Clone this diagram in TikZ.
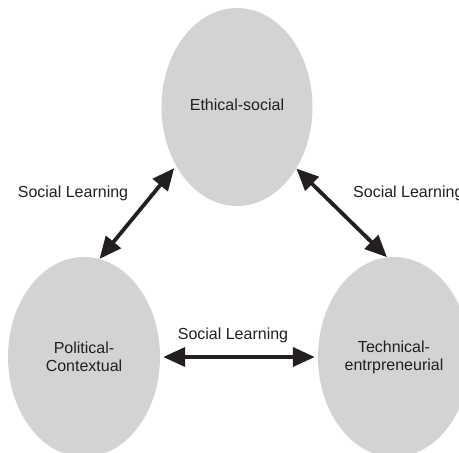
\documentclass[tikz,border=0pt]{standalone}
\usepackage{fontspec}
\setmainfont{Liberation Sans}
\usetikzlibrary{shapes.geometric,arrows.meta}
\definecolor{ovalfill}{RGB}{209,211,212}
\definecolor{ink}{RGB}{35,31,32}
\tikzset{
  oval/.style={ellipse, fill=ovalfill, draw=none, inner sep=0pt, text=ink, align=center,
               font=\fontsize{16}{18}\selectfont},
  lbl/.style={text=ink, inner sep=0pt, font=\fontsize{16}{18}\selectfont},
  link/.style={draw=ink, fill=ink, line width=3.8pt,
               {Triangle[length=22pt,width=19pt]}-{Triangle[length=22pt,width=19pt]}}
}
\begin{document}
\begin{tikzpicture}[x=1pt,y=-1pt]
\useasboundingbox (0,0) rectangle (459,453);
\clip (0,0) rectangle (459,453);
\node[oval, minimum width=151pt, minimum height=198pt] (es) at (237,107) {\raisebox{4pt}{Ethical-social}};
\node[oval, minimum width=152pt, minimum height=200pt] (pc) at (84,357) {Political-\\Contextual};
\node[oval, minimum width=152pt, minimum height=200pt] (tr) at (394,357) {Technical-\\entrpreneurial};
\draw[link, shorten >=3pt] (pc.81) -- (es.224);
\draw[link] (es.314) -- (tr.94);
\draw[link, shorten <=3pt, shorten >=3pt] (pc.east) -- (tr.west);
\node[lbl] (l1) at (73,193) {Social Learning};
\node[lbl, anchor=west] (l2) at (353,193) {Social Learning};
\node[lbl] (l3) at (233,335) {Social Learning};
\end{tikzpicture}
\end{document}
